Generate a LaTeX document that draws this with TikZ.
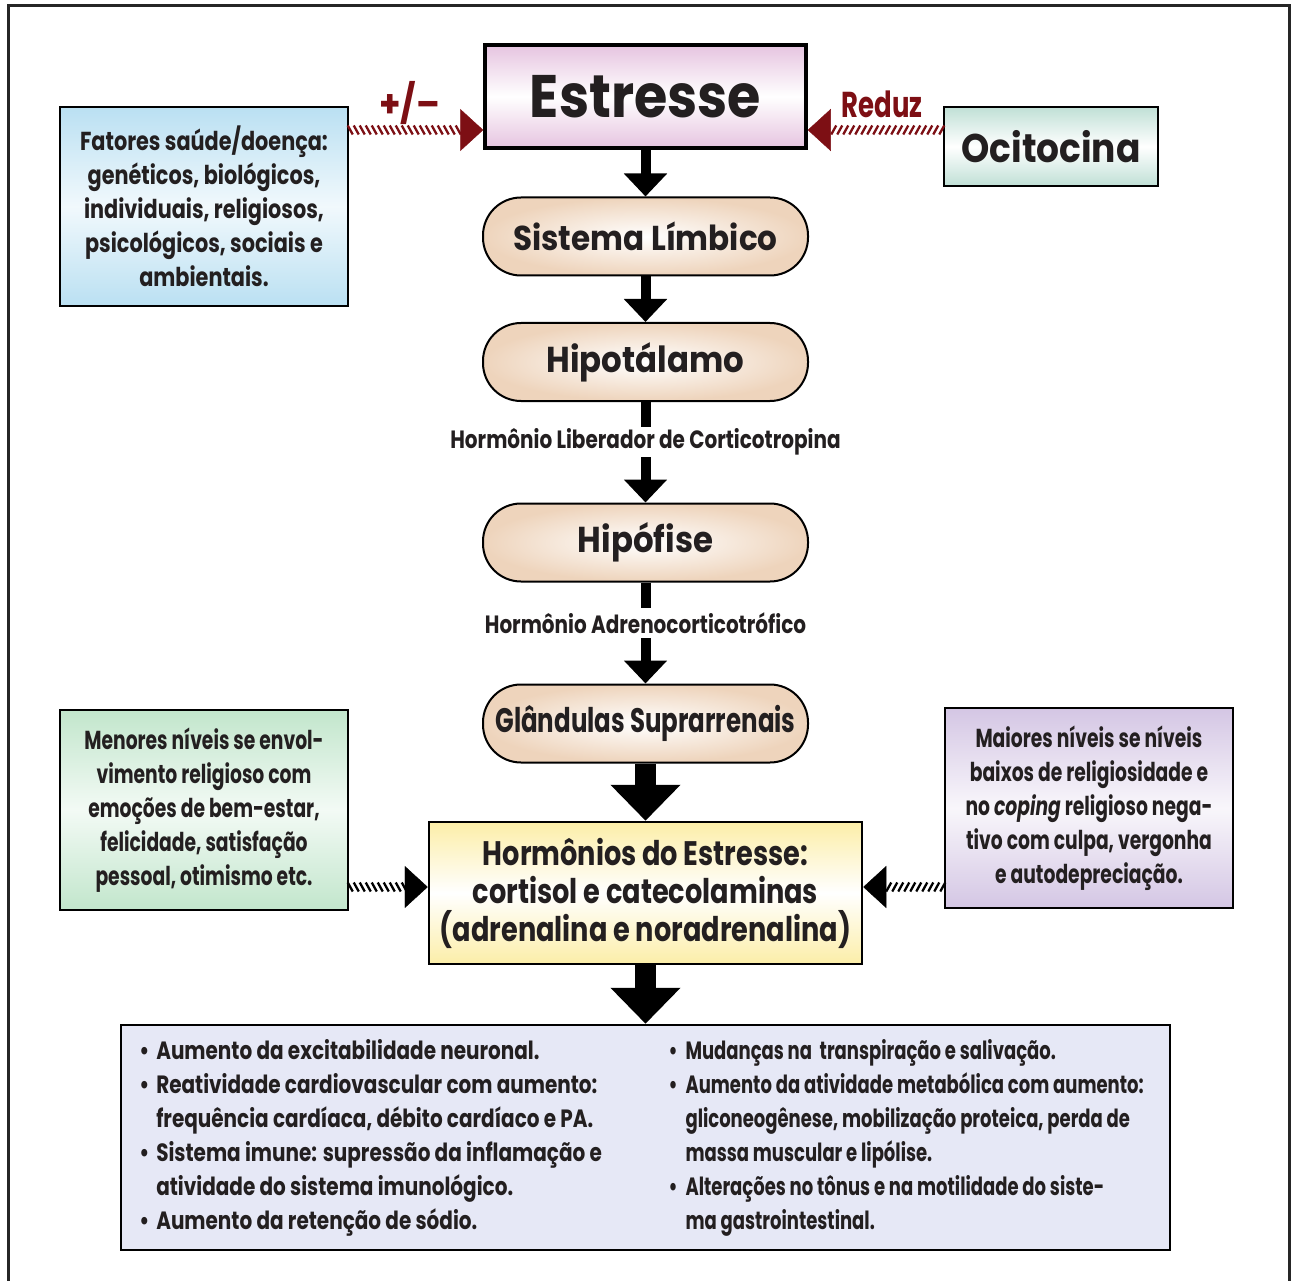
\documentclass[tikz,border=0pt]{standalone}
\usepackage{fontspec}
\setmainfont{Poppins}[FakeStretch=0.9]
\newfontfamily\cond{Poppins}[FakeStretch=0.8]
\newfontfamily\estreito{Poppins}[FakeStretch=0.72]
\usetikzlibrary{arrows.meta,decorations.markings}
\definecolor{tinta}{RGB}{35,31,32}
\definecolor{vinho}{RGB}{125,15,20}
\definecolor{rosa}{RGB}{230,196,224}
\definecolor{verdeagua}{RGB}{192,224,214}
\definecolor{azul}{RGB}{186,224,242}
\definecolor{pessego}{RGB}{238,212,188}
\definecolor{amarelo}{RGB}{252,238,168}
\definecolor{verde}{RGB}{194,230,204}
\definecolor{lilas}{RGB}{212,198,228}
\definecolor{lavanda}{RGB}{230,232,246}
\newcommand{\bul}{\makebox[17pt][l]{•}}
\newcommand{\recuo}{\hspace*{17pt}}

\begin{document}
\begin{tikzpicture}[x=1pt,y=-1pt,
    every node/.style={text=tinta},
    caixa/.style={draw, line width=2.5pt, align=center, inner sep=0pt},
    etapa/.style={draw, line width=2pt, rounded corners=38pt, minimum width=325pt,
        minimum height=78pt, inner color=white, outer color=pessego,
        font=\bfseries\fontsize{36}{40}\selectfont},
    rotulo/.style={inner sep=0pt, minimum height=30pt, font=\cond\bfseries\fontsize{25}{28}\selectfont},
    seta/.style={line width=10pt, -{Triangle[length=23pt,width=42pt]}},
    setagrande/.style={line width=21pt, -{Triangle[length=36pt,width=68pt]}},
    hachura/.style 2 args={decoration={markings,
        mark=between positions 1pt and -22pt step 6pt with {\draw[#2, line width=2.3pt] (-#1,-4.5pt) -- (#1,4.5pt);},
        mark=at position 1 with {\arrow[#2]{Triangle[length=23pt,width=42pt]}}},
        postaction={decorate}}]
\useasboundingbox (0,0) rectangle (1291,1281);
\draw[line width=3pt, black!85] (8,1281) -- (8,6) -- (1289,6) -- (1289,1281);

% eixo central
\node[caixa, line width=3.5pt, minimum width=321pt, minimum height=103pt, top color=rosa, bottom color=rosa, middle color=white,
    font=\bfseries\fontsize{60}{64}\selectfont] (est) at (645.5,96.5) {Estresse};
\node[etapa, font=\bfseries\fontsize{34.5}{40}\selectfont] (lim) at (645.5,236.5) {Sistema Límbico};
\node[etapa] (hip) at (645.5,362) {Hipotálamo};
\node[rotulo] (crh) at (645.5,442) {Hormônio Liberador de Corticotropina};
\node[etapa] (hif) at (645.5,542.5) {Hipófise};
\node[rotulo] (acth) at (645.5,623) {Hormônio Adrenocorticotrófico};
\node[etapa, font=\estreito\bfseries\fontsize{34}{40}\selectfont] (gla) at (645.5,723.5) {Glândulas Suprarrenais};
\node[caixa, minimum width=433pt, minimum height=142pt, top color=amarelo, bottom color=amarelo, middle color=white,
    font=\cond\bfseries\fontsize{34}{38}\selectfont] (hor) at (645.5,893) {Hormônios do Estresse:\\cortisol e catecolaminas\\(adrenalina e noradrenalina)};

% caixas laterais
\node[caixa, minimum width=214pt, minimum height=79pt, top color=verdeagua, bottom color=verdeagua, middle color=white,
    font=\bfseries\fontsize{40}{44}\selectfont] (oci) at (1051,146.5) {Ocitocina};
\node[caixa, minimum width=288pt, minimum height=199pt, top color=azul, bottom color=azul, middle color=azul!20,
    font=\cond\bfseries\fontsize{26}{34}\selectfont] (fat) at (204,206.5)
    {Fatores saúde/doença:\\genéticos, biológicos,\\individuais, religiosos,\\psicológicos, sociais e\\ambientais.};
\node[caixa, minimum width=288pt, minimum height=200pt, top color=verde, bottom color=verde, middle color=verde!20,
    font=\estreito\bfseries\fontsize{26}{34}\selectfont] (men) at (204,810)
    {Menores níveis se envol-\\vimento religioso com\\emoções de bem-estar,\\felicidade, satisfação\\pessoal, otimismo etc.};
\node[caixa, minimum width=288pt, minimum height=200pt, top color=lilas, bottom color=lilas, middle color=lilas!15,
    font=\estreito\bfseries\fontsize{26}{34}\selectfont] (mai) at (1089,808)
    {Maiores níveis se níveis\\baixos de religiosidade e\\no \textit{coping} religioso nega-\\tivo com culpa, vergonha\\e autodepreciação.};

% efeitos
\node[caixa, minimum width=1049pt, minimum height=225pt, fill=lavanda] (efe) at (645.5,1137.5) {};
\node[anchor=west, align=left, font=\cond\bfseries\fontsize{25}{34}\selectfont] (colE) at ([xshift=16pt]efe.west)
    {\bul Aumento da excitabilidade neuronal.\\
     \bul Reatividade cardiovascular com aumento:\\
     \recuo frequência cardíaca, débito cardíaco e PA.\\
     \bul Sistema imune: supressão da inflamação e\\
     \recuo atividade do sistema imunológico.\\
     \bul Aumento da retenção de sódio.};
\node[anchor=west, align=left, font=\estreito\bfseries\fontsize{25}{34}\selectfont] (colD) at ([xshift=19.5pt]efe.center)
    {\bul Mudanças na\ \ transpiração e salivação.\\
     \bul Aumento da atividade metabólica com aumento:\\
     \recuo gliconeogênese, mobilização proteica, perda de\\
     \recuo massa muscular e lipólise.\\
     \bul Alterações no tônus e na motilidade do siste-\\
     \recuo ma gastrointestinal.};

% setas
\draw[seta] (est) -- (lim);
\draw[seta] (lim) -- (hip);
\draw[line width=10pt] (hip) -- (crh);
\draw[seta] (crh) -- (hif);
\draw[line width=10pt] (hif) -- (acth);
\draw[seta] (acth) -- (gla);
\draw[setagrande] (gla) -- (hor);
\draw[setagrande] (hor) -- (efe);

\path[hachura={-2.5pt}{vinho}] ([yshift=76.5pt]fat.east) -- ([yshift=-33.5pt]est.west)
    node[pos=0.45, above=2pt, text=vinho, font=\bfseries\fontsize{38}{40}\selectfont] (pm) {+/–};
\path[hachura={2.5pt}{vinho}] ([yshift=16.5pt]oci.west) -- ([yshift=-33.5pt]est.east)
    node[pos=0.45, above=9pt, text=vinho, font=\estreito\bfseries\fontsize{36}{38}\selectfont] (red) {Reduz};
\path[hachura={-2.5pt}{black}] ([yshift=-77pt]men.east) -- ([yshift=6pt]hor.west);
\path[hachura={2.5pt}{black}] ([yshift=-79pt]mai.west) -- ([yshift=6pt]hor.east);
\end{tikzpicture}
\end{document}
